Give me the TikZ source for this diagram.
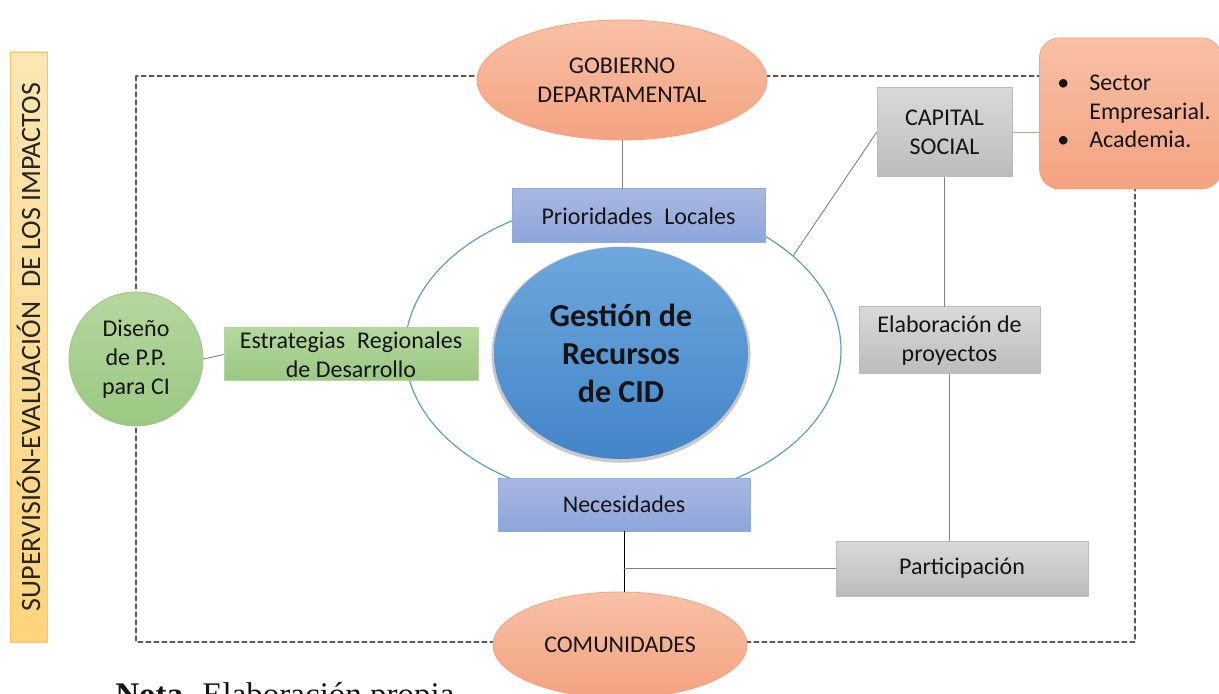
\documentclass[tikz,border=0pt]{standalone}
\usepackage{fontspec}
\setmainfont{Carlito}
\newfontfamily\notefont{Liberation Serif}
\usetikzlibrary{shapes.geometric,shadows}

\definecolor{orangetop}{HTML}{F8C0A6}
\definecolor{orangebot}{HTML}{F4A380}
\definecolor{bluetop}{HTML}{A9B8E1}
\definecolor{bluebot}{HTML}{8DA5DB}
\definecolor{bluedraw}{HTML}{8FAADC}
\definecolor{graytop}{HTML}{D9D9D9}
\definecolor{graybot}{HTML}{BCBCBC}
\definecolor{greentop}{HTML}{B4D79E}
\definecolor{greenbot}{HTML}{9BC882}
\definecolor{hubtop}{HTML}{6DA7DC}
\definecolor{hubbot}{HTML}{4385C9}
\definecolor{ringblue}{HTML}{5B9BD5}
\definecolor{barleft}{HTML}{FCE6B4}
\definecolor{barright}{HTML}{FFD47C}

\begin{document}
\begin{tikzpicture}[x=0.5pt, y=-0.5pt, line cap=round, line join=round,
  every node/.style={text=black!92, inner sep=0pt,
    font=\fontsize{12}{14.4}\selectfont},
  orangeoval/.style={ellipse, draw=orangebot, line width=0.4pt,
    top color=orangetop, bottom color=orangebot, align=center},
  bluebox/.style={rectangle, draw=bluedraw, line width=0.5pt,
    top color=bluetop, bottom color=bluebot, align=center},
  graybox/.style={rectangle, draw=graybot, line width=0.5pt,
    top color=graytop, bottom color=graybot, align=center},
  greenbox/.style={rectangle, draw=greentop, line width=0.5pt,
    top color=greentop, bottom color=greenbot, align=center},
  link/.style={draw=black!50, line width=0.45pt},
  frame/.style={draw=black!65, line width=0.6pt,
    dash pattern=on 2.4pt off 1.6pt}]

\useasboundingbox (0,0) rectangle (1219,694);

% -----------------------
% Dashed frame and ring
% -----------------------
\draw[frame] (136,76) rectangle (1135,642);
\node[ellipse, draw=ringblue, line width=0.6pt,
  minimum width=218pt, minimum height=150pt] (ring) at (623,350) {};

% -----------------------
% Side bar
% -----------------------
\node[rotate=90, draw=barright!80!orange, line width=0.4pt,
  top color=barleft, bottom color=barright,
  minimum width=295pt, minimum height=18.5pt,
  font=\fontsize{14}{16}\selectfont, text=black!85] (bar) at (28.5,347)
  {SUPERVISIÓN-EVALUACIÓN\enspace DE LOS IMPACTOS};

% -----------------------
% Centre
% -----------------------
\node[ellipse, top color=hubtop, bottom color=hubbot,
  minimum width=127pt, minimum height=106pt, align=center,
  font=\bfseries\fontsize{16}{19}\selectfont,
  drop shadow={opacity=0.3, fill=black!70, shadow xshift=0pt,
    shadow yshift=-0.8pt, shadow scale=1.02}] (hub) at (621,353)
  {Gestión de\\Recursos\\de CID};

\node[bluebox, minimum width=126.5pt, minimum height=27pt]
  (prio) at (638.5,216) {Prioridades\enspace Locales};
\node[bluebox, minimum width=126pt, minimum height=26.5pt]
  (nec) at (624,504.5) {Necesidades};

% -----------------------
% Actors
% -----------------------
\node[orangeoval, minimum width=145pt, minimum height=60pt]
  (gob) at (622,80) {GOBIERNO\\DEPARTAMENTAL};
\node[orangeoval, minimum width=127pt, minimum height=53pt]
  (com) at (620,645) {COMUNIDADES};
\node[rectangle, draw=orangebot, line width=0.4pt, rounded corners=10pt,
  top color=orangetop, bottom color=orangebot,
  minimum width=91pt, minimum height=75.5pt] (sector) at (1130.5,113.5) {};
\node[font=\fontsize{12}{14.25}\selectfont] (items) at (1134,113.5)
  {\begin{tabular}{@{}l@{\hspace{10pt}}l@{}}
   • & Sector\\
     & Empresarial.\\
   • & Academia.
   \end{tabular}};

% -----------------------
% Right column
% -----------------------
\node[graybox, minimum width=67.5pt, minimum height=44.5pt]
  (cap) at (944.5,132.5) {CAPITAL\\SOCIAL};
\node[graybox, minimum width=90.5pt, minimum height=33.5pt]
  (elab) at (949.5,340.5) {Elaboración de\\proyectos};
\node[graybox, minimum width=126pt, minimum height=27.5pt]
  (part) at (962,568.5) {Participación};

% -----------------------
% Left side
% -----------------------
\node[circle, draw=greentop!90!black, line width=0.4pt,
  top color=greentop, bottom color=greenbot, align=center,
  minimum size=67pt] (dis) at (136,359) {Diseño\\de P.P.\\para CI};
\node[greenbox, minimum width=127pt, minimum height=26.5pt]
  (estr) at (351,354.5) {Estrategias\enspace Regionales\\de Desarrollo};

% -----------------------
% Connectors
% -----------------------
\draw[link] (gob.south) -- (gob.south |- prio.north);
\draw[link] (cap.west) -- (ring.29);
\draw[draw=bluedraw, line width=0.5pt] (cap.east) -- (cap.east -| sector.west);
\draw[link] (cap.south) -- (cap.south |- elab.north);
\draw[link] (elab.south) -- (elab.south |- part.north);
\draw[link] (dis.east) -- (estr.west);
\coordinate (joint) at (nec.south |- part.west);
\draw[black, line width=0.5pt] (nec.south) -- (nec.south |- com.north);
\draw[link] (joint) -- (part.west);

% -----------------------
% Note (cut by page edge)
% -----------------------
\node[anchor=base west, font=\notefont\fontsize{16.5}{19}\selectfont]
  (note) at (115,705) {\textbf{Nota.} Elaboración propia};

\end{tikzpicture}
\end{document}
